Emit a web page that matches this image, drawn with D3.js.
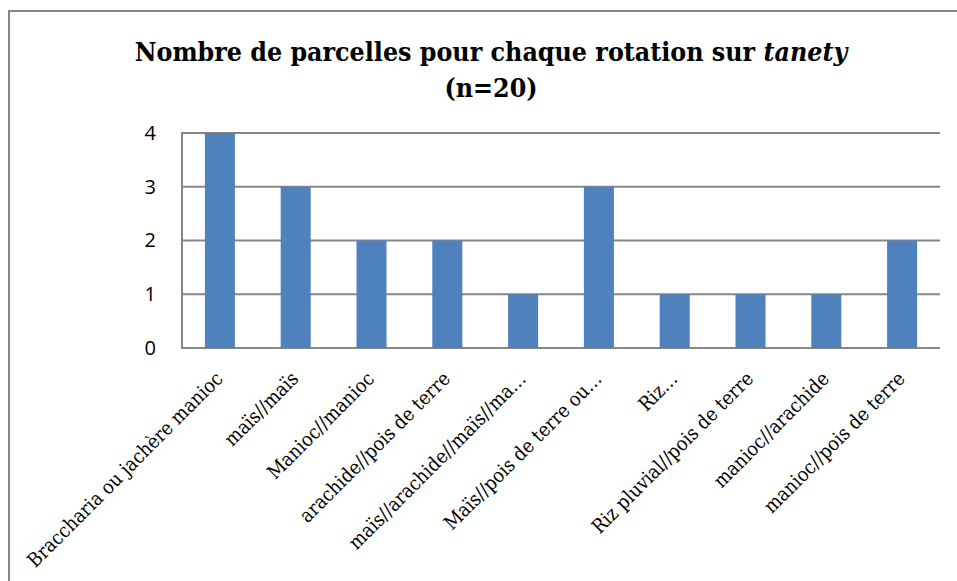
<!DOCTYPE html>
<html>
<head>
<meta charset="utf-8">
<script src="https://cdn.jsdelivr.net/npm/d3@7"></script>
<style>
  body { margin: 0; background: #fff; }
  .title { font-family: "DejaVu Serif Condensed", "DejaVu Serif", serif; font-stretch: condensed; font-weight: bold; }
  .xlab text { font-family: "DejaVu Serif Condensed", "DejaVu Serif", serif; font-stretch: condensed; }
  .ylab text { font-family: "Open Sans", sans-serif; }
</style>
</head>
<body>
<svg width="957" height="581"></svg>
<script>
var rotations = [
  "Braccharia ou jachère manioc",
  "maïs//maïs",
  "Manioc//manioc",
  "arachide//pois de terre",
  "maïs//arachide//maïs//ma…",
  "Maïs//pois de terre ou…",
  "Riz…",
  "Riz pluvial//pois de terre",
  "manioc//arachide",
  "manioc//pois de terre"
];
var parcelles = [4, 3, 2, 2, 1, 3, 1, 1, 1, 2];
var yTicks = [0, 1, 2, 3, 4];

var svg = d3.select("svg"),
    width = +svg.attr("width"),
    height = +svg.attr("height");

var margin = {top: 133, right: 17, bottom: 233, left: 182};

// chart border (only left and top visible in the crop)
svg.append("path")
    .attr("d", "M9,581V11H957")
    .attr("fill", "none")
    .attr("stroke", "#868686")
    .attr("stroke-width", 2);

var title = svg.append("text")
    .attr("class", "title")
    .attr("text-anchor", "middle")
    .attr("font-size", 26.5);
title.append("tspan").attr("x", 491).attr("y", 61).text("Nombre de parcelles pour chaque rotation sur ")
  .append("tspan").attr("font-style", "italic").text("tanety");
title.append("tspan").attr("x", 491).attr("y", 97).text("(n=20)");

var x = d3.scaleBand()
    .domain(rotations)
    .range([margin.left, width - margin.right])
    .paddingInner(0.604)
    .paddingOuter(0.302);

var y = d3.scaleLinear()
    .domain([0, 4])
    .range([height - margin.bottom, margin.top]);

// gridlines
svg.append("g")
    .selectAll("line")
    .data(yTicks)
  .enter().append("line")
    .attr("x1", margin.left)
    .attr("x2", width - margin.right)
    .attr("y1", function(d) { return y(d); })
    .attr("y2", function(d) { return y(d); })
    .attr("stroke", "#868686")
    .attr("stroke-width", 2);

svg.append("line")
    .attr("x1", margin.left).attr("x2", margin.left)
    .attr("y1", y(4) - 1).attr("y2", y(0) + 1)
    .attr("stroke", "#868686")
    .attr("stroke-width", 2);

// bars
svg.append("g")
    .selectAll("rect")
    .data(parcelles)
  .enter().append("rect")
    .attr("x", function(d, i) { return x(rotations[i]); })
    .attr("y", function(d) { return y(d); })
    .attr("width", x.bandwidth())
    .attr("height", function(d) { return y(0) - y(d); })
    .attr("fill", "#4f81bd");

// y labels
var yAxis = svg.append("g")
    .attr("class", "ylab")
    .attr("transform", "translate(" + margin.left + ",0)")
    .call(d3.axisLeft(y).tickValues(yTicks).tickFormat(d3.format("d")).tickSize(0).tickPadding(26));
yAxis.select(".domain").remove();
yAxis.selectAll("text").attr("font-size", 20).attr("fill", "#000");

// x labels
var xAxis = svg.append("g")
    .attr("class", "xlab")
    .attr("transform", "translate(0," + y(0) + ")")
    .call(d3.axisBottom(x).tickSize(0).tickPadding(0));
xAxis.select(".domain").remove();
xAxis.selectAll("text")
    .attr("font-size", 19.5)
    .attr("fill", "#000")
    .attr("text-anchor", "end")
    .attr("dy", null)
    .attr("y", 0)
    .attr("transform", "translate(4,32) rotate(-45)");
</script>
</body>
</html>
